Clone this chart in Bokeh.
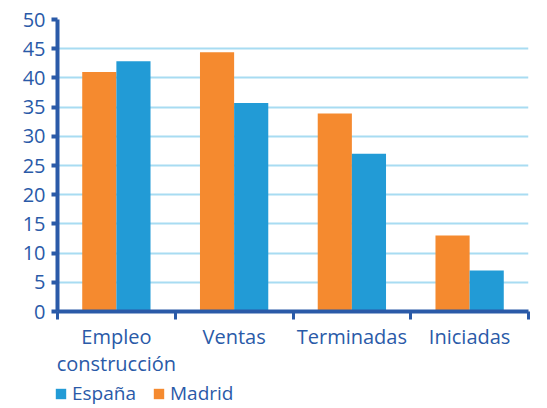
from bokeh.plotting import figure
from bokeh.layouts import column
from bokeh.models import Range1d, FixedTicker, LinearAxis, Legend, LegendItem, ColumnDataSource
from bokeh.transform import dodge
from bokeh.embed import file_html
from bokeh.resources import INLINE

categories = ["Empleo\nconstrucción", "Ventas", "Terminadas", "Iniciadas"]
madrid = [41.0, 44.4, 33.9, 13.0]
espana = [42.85, 35.7, 27.0, 7.0]
y_ticks = [0, 5, 10, 15, 20, 25, 30, 35, 40, 45, 50]

ORANGE = "#f58a2f"
BLUE = "#229bd6"
AXIS = "#2a5aa8"
GRID = "#a8dcf2"
FONT = "Open Sans"

n = len(categories)
centers = [i + 0.5 for i in range(n)]
src = ColumnDataSource(dict(x=centers, madrid=madrid, espana=espana))

p = figure(frame_width=471, frame_height=292, output_backend="svg", toolbar_location=None,
           x_range=Range1d(0, n), y_range=Range1d(0, 50),
           x_axis_location=None,
           min_border_left=57, min_border_right=10, min_border_top=19, min_border_bottom=0)
p.outline_line_color = None
p.background_fill_color = "white"
p.border_fill_color = "white"
p.xgrid.visible = False

p.vbar(x=dodge("x", -0.145, range=p.x_range), top="madrid", width=0.29,
       source=src, fill_color=ORANGE, line_color=None)
p.vbar(x=dodge("x", 0.145, range=p.x_range), top="espana", width=0.29,
       source=src, fill_color=BLUE, line_color=None)

# y axis
p.yaxis.ticker = FixedTicker(ticks=y_ticks)
p.yaxis.axis_line_color = AXIS
p.yaxis.axis_line_width = 4
p.yaxis.major_tick_line_color = AXIS
p.yaxis.major_tick_line_width = 4
p.yaxis.major_tick_out = 6
p.yaxis.major_tick_in = 0
p.yaxis.minor_tick_line_color = None
p.yaxis.major_label_text_color = AXIS
p.yaxis.major_label_text_font = FONT
p.yaxis.major_label_text_font_size = "20px"
p.yaxis.major_label_standoff = 6

p.ygrid.ticker = FixedTicker(ticks=y_ticks)
p.ygrid.grid_line_color = GRID
p.ygrid.grid_line_width = 2

# x axis: tick marks at boundaries
bounds = list(range(n + 1))
ax_ticks = LinearAxis(ticker=FixedTicker(ticks=bounds),
                      major_label_overrides={b: "" for b in bounds},
                      major_label_text_font_size="1px",
                      major_label_standoff=0,
                      axis_line_color=AXIS, axis_line_width=4,
                      major_tick_line_color=AXIS, major_tick_line_width=3,
                      major_tick_out=8, major_tick_in=0,
                      minor_tick_line_color=None)
p.add_layout(ax_ticks, "below")

ax_labels = LinearAxis(ticker=FixedTicker(ticks=centers),
                       major_label_overrides={c: lab for c, lab in zip(centers, categories)},
                       axis_line_color=None, major_tick_line_color=None,
                       minor_tick_line_color=None,
                       major_tick_out=0, major_tick_in=0,
                       major_label_standoff=3,
                       major_label_text_color=AXIS,
                       major_label_text_font=FONT,
                       major_label_text_font_size="20px",
                       major_label_text_line_height=1.0)
p.add_layout(ax_labels, "below")

# legend strip below the chart (same data, bars fall outside its view)
p2 = figure(frame_width=538, frame_height=27, output_backend="svg", toolbar_location=None,
            x_range=Range1d(0, n), y_range=Range1d(1000, 1001),
            x_axis_location=None, y_axis_location=None,
            min_border_left=0, min_border_right=0, min_border_top=0, min_border_bottom=0)
p2.outline_line_color = None
p2.grid.visible = False
l_md = p2.vbar(x="x", top="madrid", width=0.29, source=src, fill_color=ORANGE, line_color=None)
l_es = p2.vbar(x="x", top="espana", width=0.29, source=src, fill_color=BLUE, line_color=None)

legend = Legend(items=[LegendItem(label="España", renderers=[l_es]),
                       LegendItem(label="Madrid", renderers=[l_md])],
                orientation="horizontal", location=(54, 0),
                label_text_color=AXIS, label_text_font=FONT, label_text_font_size="19px",
                glyph_width=13, glyph_height=13, label_standoff=5, spacing=16,
                padding=0, margin=0, border_line_color=None, background_fill_alpha=0)
p2.add_layout(legend, "center")

layout = column(p, p2, spacing=0)
open("out.html", "w").write(file_html(layout, INLINE))
